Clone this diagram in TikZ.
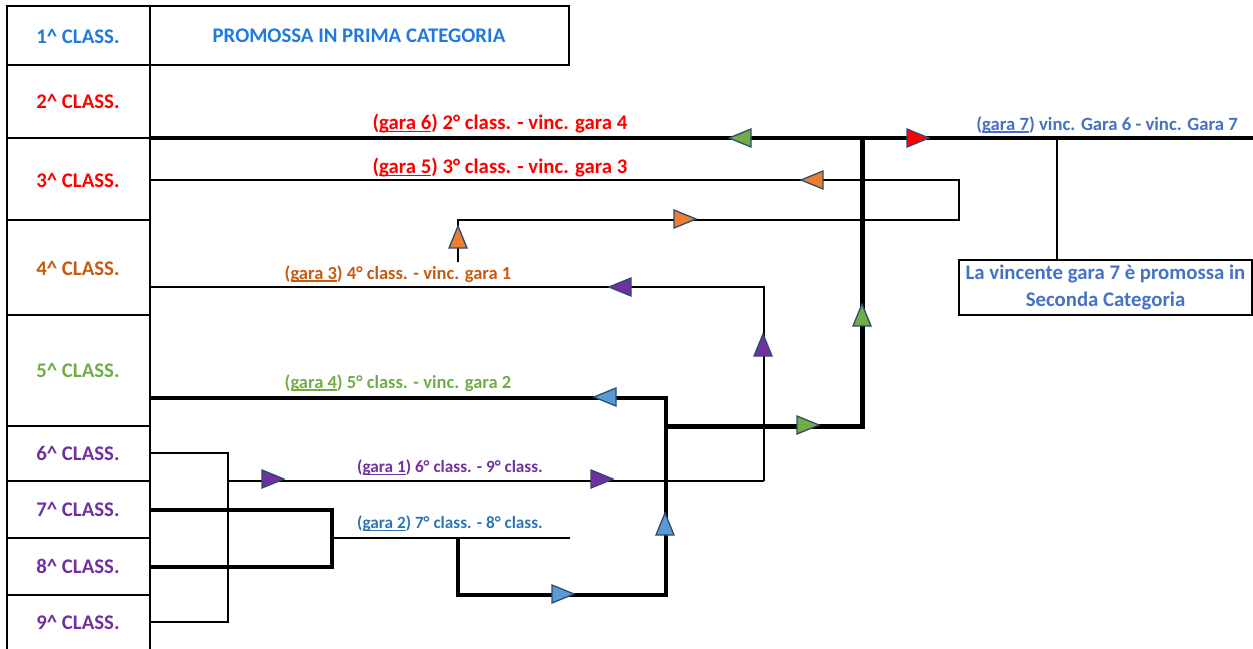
\documentclass[tikz,border=0pt]{standalone}
\usepackage{fontspec}
\setmainfont{Carlito}
\newcommand{\myul}[1]{\setbox0\hbox{#1}\rlap{\rule[-2.4pt]{\wd0}{1.4pt}}\box0}
\definecolor{cblue}{HTML}{1F7AE0}
\definecolor{cred}{HTML}{FF0000}
\definecolor{corange}{HTML}{C55A11}
\definecolor{cgreen}{HTML}{70AD47}
\definecolor{cpurple}{HTML}{7030A0}
\definecolor{cblueB}{HTML}{2E75B6}
\definecolor{cblueC}{HTML}{4472C4}
\definecolor{fgreen}{HTML}{70AD47}
\definecolor{fred}{HTML}{FF0000}
\definecolor{forange}{HTML}{ED7D31}
\definecolor{fpurple}{HTML}{7030A0}
\definecolor{fblue}{HTML}{5B9BD5}
\definecolor{triedge}{HTML}{2F4B6E}
\begin{document}
\begin{tikzpicture}[x=1pt,y=-1pt,
  grid/.style={line width=2pt, line cap=rect},
  thin/.style={line width=2pt},
  thick/.style={line width=4.2pt},
  vthick/.style={line width=5pt},
  cls/.style={font=\bfseries\fontsize{20.8}{24}\selectfont, inner sep=0pt},
  lbl/.style={font=\bfseries\fontsize{20.8}{24}\selectfont, inner sep=0pt},
  lblm/.style={font=\bfseries\fontsize{18.5}{22}\selectfont, inner sep=0pt},
  lbls/.style={font=\bfseries\fontsize{17.2}{20}\selectfont, inner sep=0pt},
  tri/.pic={\draw[line width=1.3pt, draw=triedge, fill=#1, line join=miter] (11,0) -- (-11,-9) -- (-11,9) -- cycle;}
]
\useasboundingbox (0,0) rectangle (1253,648);
% table grid
\draw[grid] (7,6) -- (7,648);
\draw[grid] (150,6) -- (150,648);
\draw[grid] (7,6) -- (569,6) -- (569,65) -- (7,65);
\foreach \yy in {138,220,315,426,481,538,595} \draw[grid] (7,\yy) -- (150,\yy);
% class labels
\node[cls, text=cblue] (c1) at (78,36) {1\textasciicircum{} CLASS.};
\node[cls, text=cred] (c2) at (78,101) {2\textasciicircum{} CLASS.};
\node[cls, text=cred] (c3) at (78,180) {3\textasciicircum{} CLASS.};
\node[cls, text=corange] (c4) at (78,268) {4\textasciicircum{} CLASS.};
\node[cls, text=cgreen] (c5) at (78,370) {5\textasciicircum{} CLASS.};
\node[cls, text=cpurple] (c6) at (78,453) {6\textasciicircum{} CLASS.};
\node[cls, text=cpurple] (c7) at (78,509) {7\textasciicircum{} CLASS.};
\node[cls, text=cpurple] (c8) at (78,566) {8\textasciicircum{} CLASS.};
\node[cls, text=cpurple] (c9) at (78,622) {9\textasciicircum{} CLASS.};
\node[cls, text=cblue] (prom) at (359,36) {PROMOSSA IN PRIMA CATEGORIA};
% coordinates
\coordinate (s6) at (150,138);
\coordinate (e7) at (1253,138);
\coordinate (j7) at (1057,138);
\coordinate (v6t) at (862,138);
\coordinate (v6b) at (862,426);
\coordinate (j4) at (666,426);
\coordinate (s5) at (150,180);
\coordinate (k5a) at (959,180);
\coordinate (k5b) at (959,220);
\coordinate (k5c) at (458,220);
\coordinate (k5d) at (458,262);
\coordinate (s3) at (150,287);
\coordinate (k3a) at (764,287);
\coordinate (k3b) at (764,481);
\coordinate (s4) at (150,398);
\coordinate (k4a) at (666,398);
\coordinate (k4b) at (666,595);
\coordinate (k4c) at (458,595);
\coordinate (k4d) at (458,538);
\coordinate (s6c) at (150,453);
\coordinate (b1a) at (228,453);
\coordinate (b1b) at (228,622);
\coordinate (s9c) at (150,622);
\coordinate (b1m) at (228,481);
\coordinate (s7c) at (150,510);
\coordinate (b2a) at (332,510);
\coordinate (b2b) at (332,567);
\coordinate (s8c) at (150,567);
\coordinate (b2m) at (332,538);
\coordinate (e2) at (570,538);
% box
\node[draw, line width=2pt, minimum width=293pt, minimum height=55pt, inner sep=0pt, align=center,
  font=\bfseries\fontsize{20.8}{27}\selectfont, text=cblueC] (box) at (1105.5,287.5)
  {La vincente gara 7 è promossa in\\Seconda Categoria};
% connectors
\draw[thick] (s6) -- (e7);
\draw[thin] (j7) -- (j7 |- box.north);
\draw[vthick] (v6t) -- (v6b) -- (j4);
\draw[thin] (s5) -- (k5a) -- (k5b) -- (k5c) -- (k5d);
\draw[thin] (s3) -- (k3a) -- (k3b);
\draw[thick] (s4) -- (k4a) -- (k4b) -- (k4c) -- (k4d);
\draw[thin] (s6c) -- (b1a) -- (b1b) -- (s9c);
\draw[thin] (b1m) -- (k3b);
\draw[thick] (s7c) -- (b2a) -- (b2b) -- (s8c);
\draw[thin] (b2m) -- (e2);
% match labels
\node[lbl, text=cred] (g6) at (500,124) {(\myul{gara 6}) 2° class. - vinc. gara 4};
\node[lbl, text=cred] (g5) at (500,168) {(\myul{gara 5}) 3° class. - vinc. gara 3};
\node[lblm, text=corange] (g3) at (398,274) {(\myul{gara 3}) 4° class. - vinc. gara 1};
\node[lblm, text=cgreen] (g4) at (398,383) {(\myul{gara 4}) 5° class. - vinc. gara 2};
\node[lbls, text=cpurple] (g1) at (450,468) {(\myul{gara 1}) 6° class. - 9° class.};
\node[lbls, text=cblueB] (g2) at (450,524) {(\myul{gara 2}) 7° class. - 8° class.};
\node[font=\bfseries\fontsize{18.7}{22}\selectfont, inner sep=0pt, text=cblueC] (g7) at (1107,125) {(\myul{gara 7}) vinc. Gara 6 - vinc. Gara 7};
% direction triangles
\pic[rotate=180] at (740,138) {tri=fgreen};
\pic at (918,138) {tri=fred};
\pic[rotate=180] at (812,180) {tri=forange};
\pic at (685,219) {tri=forange};
\pic[rotate=90] at (458,237) {tri=forange};
\pic[rotate=180] at (620,287) {tri=fpurple};
\pic[rotate=90] at (763,345) {tri=fpurple};
\pic[rotate=90] at (862,315) {tri=fgreen};
\pic[rotate=180] at (605,397) {tri=fblue};
\pic at (808,425) {tri=fgreen};
\pic at (273,479) {tri=fpurple};
\pic at (602,479) {tri=fpurple};
\pic[rotate=90] at (665,524) {tri=fblue};
\pic at (563,594) {tri=fblue};
\end{tikzpicture}
\end{document}
